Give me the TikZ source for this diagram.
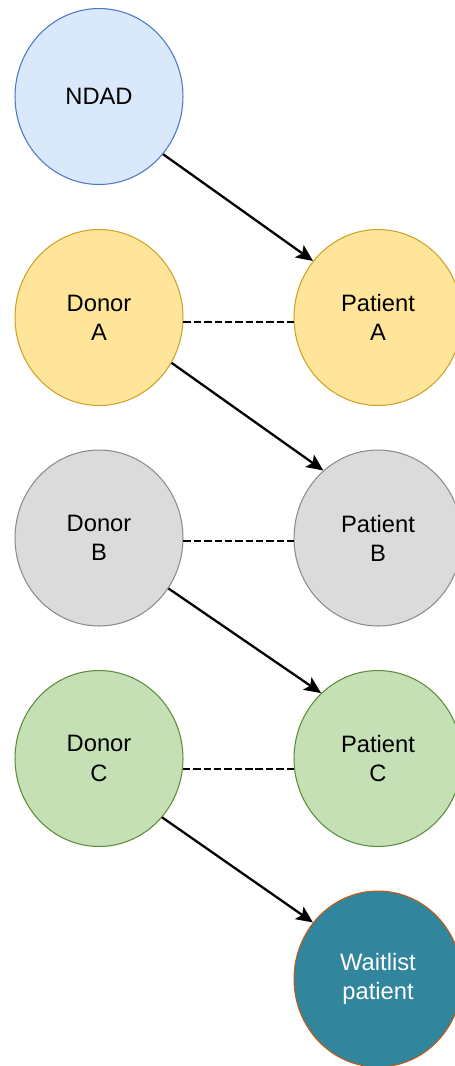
\documentclass[tikz,border=0pt]{standalone}
\usepackage{fontspec}
\setmainfont{Liberation Sans}
\usetikzlibrary{shapes.geometric,arrows.meta}

\definecolor{ndadfill}{HTML}{DAE8FC}
\definecolor{ndadline}{HTML}{4A78C8}
\definecolor{afill}{HTML}{FFE599}
\definecolor{aline}{HTML}{CFA124}
\definecolor{bfill}{HTML}{DBDBDB}
\definecolor{bline}{HTML}{8C8C8C}
\definecolor{cfill}{HTML}{C5E0B4}
\definecolor{cline}{HTML}{5B8C3A}
\definecolor{wfill}{HTML}{31859C}
\definecolor{wline}{HTML}{C55A11}

\begin{document}
\begin{tikzpicture}[x=0.02cm,y=-0.02cm]
  \tikzstyle{vertex}=[ellipse,minimum width=3.36cm,minimum height=3.52cm,inner sep=0pt,line width=0.6pt,align=center,font=\fontsize{13.5}{16.6}\selectfont]
  \tikzstyle{edge}=[line width=1.3pt,-{Stealth[length=9.5pt,width=8.5pt,inset=2pt]}]
  \tikzstyle{pair}=[line width=1.2pt,dash pattern=on 4.2pt off 1.7pt]
  \useasboundingbox (0,0) rectangle (454,1066);

  \node[vertex,draw=ndadline,fill=ndadfill] (N) at (99,96.5) {NDAD};
  \node[vertex,draw=aline,fill=afill] (D_A) at (99,317.5) {Donor\\A};
  \node[vertex,draw=aline,fill=afill] (P_A) at (378,317.5) {Patient\\A};
  \node[vertex,draw=bline,fill=bfill] (D_B) at (99,538) {Donor\\B};
  \node[vertex,draw=bline,fill=bfill] (P_B) at (378,538) {Patient\\B};
  \node[vertex,draw=cline,fill=cfill] (D_C) at (99,758.5) {Donor\\C};
  \node[vertex,draw=cline,fill=cfill] (P_C) at (378,758.5) {Patient\\C};
  \node[vertex,draw=wline,fill=wfill,text=white] (W) at (378,979) {Waitlist\\patient};

  \draw[edge] (N.-42) -- (P_A.139);
  \draw[edge] (D_A.-32) -- (P_B.129);
  \draw[edge] (D_B.-36) -- (P_C.131);
  \draw[edge] (D_C.-43) -- (W.139);

  \draw[pair] (D_A.-3) -- (P_A.183);
  \draw[pair] (D_B.-2.7) -- (P_B.182.7);
  \draw[pair] (D_C.-7) -- (P_C.187);

\end{tikzpicture}
\end{document}
